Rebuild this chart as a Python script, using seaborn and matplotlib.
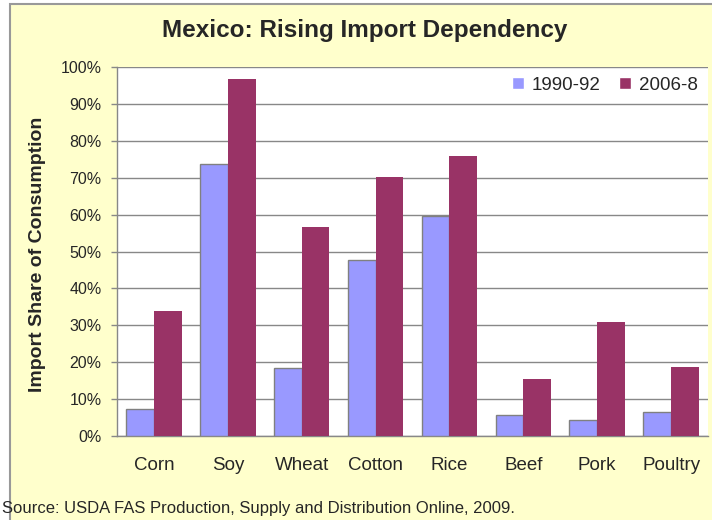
import matplotlib
matplotlib.use("Agg")
import matplotlib.pyplot as plt
from matplotlib.patches import Rectangle
from matplotlib.ticker import FixedLocator
import pandas as pd
import seaborn as sns

crops = ["Corn", "Soy", "Wheat", "Cotton", "Rice", "Beef", "Pork", "Poultry"]
periods = ["1990-92", "2006-8"]
share_1990 = [7.3, 73.8, 18.4, 47.7, 59.6, 5.7, 4.3, 6.5]
share_2006 = [33.9, 96.7, 56.6, 70.3, 75.9, 15.4, 30.9, 18.8]
colors = ["#9999FF", "#993366"]

df = pd.DataFrame({
    "crop": crops * 2,
    "period": [periods[0]] * len(crops) + [periods[1]] * len(crops),
    "share": share_1990 + share_2006,
})

sns.set_style("white")
plt.rcParams["font.family"] = ["Liberation Sans", "DejaVu Sans"]

fig = plt.figure(figsize=(7.12, 5.2), dpi=100)
fig.patch.set_facecolor("white")
# yellow chart-area background with grey border on left/top
fig.patches.append(Rectangle((10 / 712, -0.05), 1.1, 1.05 - 3.5 / 520,
                             transform=fig.transFigure, facecolor="#FFFFCC",
                             edgecolor="#999999", linewidth=1.5, zorder=-1))

ax = fig.add_axes([117 / 712, 84 / 520, 591 / 712, 369 / 520])
ax.set_facecolor("white")

sns.barplot(data=df, x="crop", y="share", hue="period", order=crops,
            hue_order=periods, palette=colors, width=0.75, gap=0,
            saturation=1, errorbar=None, ax=ax, zorder=3)

for bar in ax.containers[0]:
    bar.set_edgecolor("#808080")
    bar.set_linewidth(1)
for bar in ax.containers[1]:
    bar.set_linewidth(0)

ax.set_ylim(0, 100)
ax.set_xlim(-0.5, len(crops) - 0.5)
ax.set_yticks(range(0, 101, 10))
ax.set_yticklabels([f"{v}%" for v in range(0, 101, 10)], fontsize=11.5)
ax.yaxis.grid(True, color="#888888", linewidth=1, zorder=0)
ax.set_axisbelow(True)

ax.tick_params(axis="x", which="major", length=0, pad=15, labelsize=13.5)
ax.xaxis.set_minor_locator(FixedLocator([i - 0.5 for i in range(len(crops) + 1)]))
ax.tick_params(axis="x", which="minor", length=4, color="#888888", width=1,
               direction="out")
ax.tick_params(axis="y", length=4, color="#888888", width=1, direction="out",
               pad=7, left=True)

for side in ["top", "right"]:
    ax.spines[side].set_visible(False)
for side in ["left", "bottom"]:
    ax.spines[side].set_color("#888888")
    ax.spines[side].set_linewidth(1)

ax.set_xlabel("")
ax.set_ylabel("")

ax.legend(loc="center right", bbox_to_anchor=(0.995, 0.951), ncol=2,
          frameon=False, fontsize=13.5, handlelength=0.65, handleheight=0.65,
          handletextpad=0.4, columnspacing=1.0, borderaxespad=0)

fig.text(0.512, 0.942, "Mexico: Rising Import Dependency", ha="center",
         va="center", fontsize=17.5, fontweight="bold")
fig.text(0.053, 0.51, "Import Share of Consumption", ha="center", va="center",
         rotation=90, fontsize=14, fontweight="bold")
fig.text(2 / 712, 0.022,
         "Source: USDA FAS Production, Supply and Distribution Online, 2009.",
         ha="left", va="center", fontsize=12)

fig.savefig("out.png", dpi=100)
